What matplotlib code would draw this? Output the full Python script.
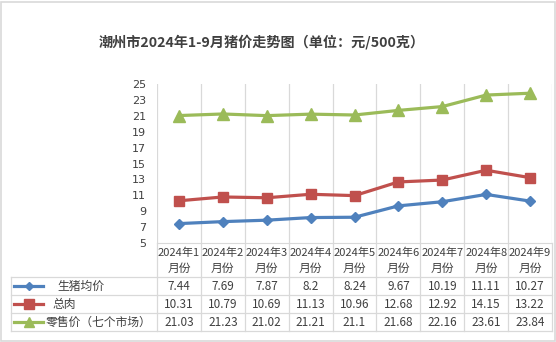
import matplotlib
matplotlib.use("Agg")
import matplotlib.pyplot as plt
from matplotlib.lines import Line2D
from matplotlib.patches import Rectangle

plt.rcParams['font.family'] = ['Noto Sans CJK SC', 'DejaVu Sans']

title = "潮州市2024年1-9月猪价走势图（单位：元/500克）"
months = ["2024年1\n月份", "2024年2\n月份", "2024年3\n月份", "2024年4\n月份", "2024年5\n月份",
          "2024年6\n月份", "2024年7\n月份", "2024年8\n月份", "2024年9\n月份"]
series_names = ["生猪均价", "总肉", "零售价（七个市场）"]
live_pig = [7.44, 7.69, 7.87, 8.2, 8.24, 9.67, 10.19, 11.11, 10.27]
total_meat = [10.31, 10.79, 10.69, 11.13, 10.96, 12.68, 12.92, 14.15, 13.22]
retail = [21.03, 21.23, 21.02, 21.21, 21.1, 21.68, 22.16, 23.61, 23.84]
value_labels = [
    ["7.44", "7.69", "7.87", "8.2", "8.24", "9.67", "10.19", "11.11", "10.27"],
    ["10.31", "10.79", "10.69", "11.13", "10.96", "12.68", "12.92", "14.15", "13.22"],
    ["21.03", "21.23", "21.02", "21.21", "21.1", "21.68", "22.16", "23.61", "23.84"],
]
yticks = [5, 7, 9, 11, 13, 15, 17, 19, 21, 23, 25]

colors = ["#4F81BD", "#C0504D", "#9BBB59"]
markers = ["D", "s", "^"]
msizes = [5.5, 7.5, 8]
TXT = "#404040"
GRID = "#D9D9D9"

W, H = 556, 342
fig = plt.figure(figsize=(W / 100, H / 100), dpi=100)

def fx(x):
    return x / W

def fy(y):
    return 1 - y / H

# outer border
fig.add_artist(Rectangle((fx(1), fy(341)), fx(554), 339 / H, transform=fig.transFigure,
                         fill=False, edgecolor="#D9D9D9", linewidth=1.2))

fig.text(fx(262), fy(42), title, ha="center", va="center", fontsize=10.2,
         fontweight="bold", color=TXT)

L, R, T, B = 157, 552, 84, 243
ax = fig.add_axes([fx(L), fy(B), fx(R - L), (B - T) / H])
n = len(months)
x = list(range(n))
for vals, c, m, ms in zip([live_pig, total_meat, retail], colors, markers, msizes):
    ax.plot(x, vals, color=c, linewidth=2.3, marker=m, markersize=ms, zorder=3)
ax.set_xlim(-0.5, n - 0.5)
ax.set_ylim(5, 25)
ax.set_yticks(yticks)
ax.set_yticklabels([str(v) for v in yticks], fontsize=8, color=TXT,
                   fontfamily=['DejaVu Sans'])
ax.set_xticks([])
for k in range(n + 1):
    ax.axvline(k - 0.5, color=GRID, linewidth=0.9, zorder=1)
for s in ["top", "right", "left"]:
    ax.spines[s].set_visible(False)
ax.spines["bottom"].set_color(GRID)
ax.tick_params(axis="y", length=0, pad=8)

# data table
rows_y = [277, 295, 313, 331]
col_w = (R - L) / n
for k in range(n + 1):
    xx = L + k * col_w
    fig.add_artist(Line2D([fx(xx), fx(xx)], [fy(B), fy(331)], transform=fig.transFigure,
                          color=GRID, linewidth=0.9))
fig.add_artist(Line2D([fx(11), fx(11)], [fy(277), fy(331)], transform=fig.transFigure,
                      color=GRID, linewidth=0.9))
for yy in rows_y:
    fig.add_artist(Line2D([fx(11), fx(R)], [fy(yy), fy(yy)], transform=fig.transFigure,
                          color=GRID, linewidth=0.9))

for i, lab in enumerate(months):
    cx = L + (i + 0.5) * col_w
    top, bot = lab.split("\n")
    fig.text(fx(cx), fy(253), top, ha="center", va="center", fontsize=8, color=TXT)
    fig.text(fx(cx), fy(268), bot, ha="center", va="center", fontsize=8.5, color=TXT)

label_x = [57, 52, 46]
for r in range(3):
    cy = (rows_y[r] + rows_y[r + 1]) / 2
    fig.add_artist(Line2D([fx(14), fx(43)], [fy(cy), fy(cy)], transform=fig.transFigure,
                          color=colors[r], linewidth=2.3))
    fig.add_artist(Line2D([fx(28.5)], [fy(cy)], transform=fig.transFigure, color=colors[r],
                          marker=markers[r], markersize=msizes[r] - 1, linestyle="none"))
    fig.text(fx(label_x[r]), fy(cy), series_names[r], ha="left", va="center",
             fontsize=8.5, color=TXT)
    for i in range(n):
        cx = L + (i + 0.5) * col_w
        fig.text(fx(cx), fy(cy), value_labels[r][i], ha="center", va="center",
                 fontsize=8.5, color=TXT)

fig.savefig("out.png", dpi=100)
